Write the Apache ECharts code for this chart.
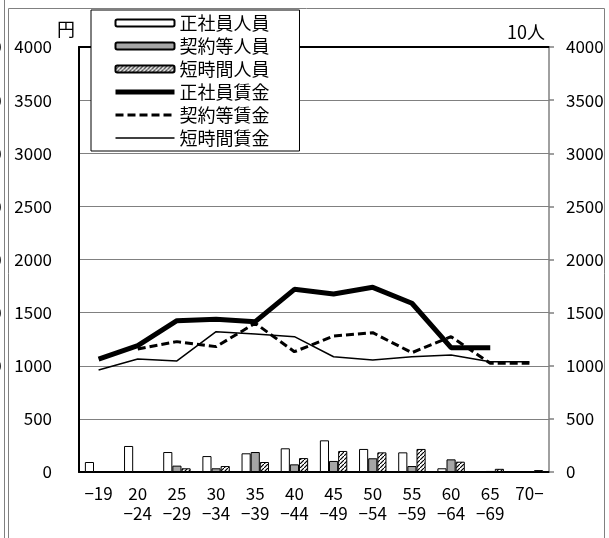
<!DOCTYPE html>
<html>
<head>
<meta charset="utf-8">
<script src="https://cdn.jsdelivr.net/npm/echarts@6/dist/echarts.min.js"></script>
<style>
  html, body { margin: 0; padding: 0; background: #fff; }
  #chart { width: 609px; height: 538px; }
</style>
</head>
<body>
<div id="chart"></div>
<script>
// age groups
const categories = ['−19', '20\n−24', '25\n−29', '30\n−34', '35\n−39', '40\n−44', '45\n−49', '50\n−54', '55\n−59', '60\n−64', '65\n−69', '70−'];

// head counts (10人)
const regularStaff = [94, 245, 188, 150, 176, 223, 298, 217, 185, 35, 4, 2];
const contractStaff = [3, 5, 60, 35, 188, 72, 104, 129, 56, 119, 10, 6];
const partTimeStaff = [4, 6, 35, 56, 94, 131, 198, 185, 217, 97, 30, 18];

// hourly wages (円)
const regularWage = [1063, 1189, 1424, 1437, 1415, 1719, 1675, 1738, 1588, 1170, 1170, null];
const contractWage = [null, 1158, 1227, 1180, 1400, 1132, 1280, 1311, 1123, 1274, 1023, 1023];
const partTimeWage = [960, 1063, 1045, 1321, 1299, 1274, 1085, 1054, 1085, 1101, 1038, 1038];

const axisTicks = [0, 500, 1000, 1500, 2000, 2500, 3000, 3500, 4000];

const FONT = '"Noto Sans CJK JP", "Liberation Sans", sans-serif';

// diagonal hatch for the part-time bars
function makeHatch() {
  const c = document.createElement('canvas');
  c.width = 4;
  c.height = 4;
  const ctx = c.getContext('2d');
  ctx.fillStyle = '#fff';
  ctx.fillRect(0, 0, 4, 4);
  ctx.strokeStyle = '#000';
  ctx.lineWidth = 1.2;
  ctx.beginPath();
  ctx.moveTo(-1, 5);
  ctx.lineTo(5, -1);
  ctx.stroke();
  return c;
}

const chartInstance = echarts.init(document.getElementById('chart'));

const barBase = {
  type: 'bar',
  yAxisIndex: 1,
  barGap: '0%',
  barCategoryGap: '30%',
};

const yMin = axisTicks[0];
const yMax = axisTicks[axisTicks.length - 1];
const yStep = axisTicks[1] - axisTicks[0];
const plain = (v) => String(v);

const option = {
  animation: false,
  textStyle: { fontFamily: FONT },
  graphic: [
    {
      type: 'rect',
      shape: { x: 8.5, y: 8.5, width: 596, height: 560 },
      style: { fill: null, stroke: '#808080', lineWidth: 1 },
      z: 0,
    },
    {
      type: 'line',
      shape: { x1: 4.5, y1: 0, x2: 4.5, y2: 538 },
      style: { stroke: '#808080', lineWidth: 1 },
    },
  ],
  legend: {
    orient: 'vertical',
    left: 91,
    top: 10,
    padding: [3, 30, 3, 22],
    backgroundColor: '#fff',
    borderColor: '#000',
    borderWidth: 1,
    itemWidth: 59,
    itemHeight: 7,
    itemGap: 3,
    textStyle: { fontFamily: FONT, fontSize: 18, color: '#000', lineHeight: 20 },
    data: [
      { name: '正社員人員' },
      { name: '契約等人員' },
      { name: '短時間人員' },
      { name: '正社員賃金', lineStyle: { width: 5 } },
      { name: '契約等賃金', lineStyle: { width: 3 } },
      { name: '短時間賃金', lineStyle: { width: 1.5 } },
    ],
    z: 10,
  },
  grid: {
    left: 79,
    right: 60,
    top: 47,
    bottom: 66,
    outerBoundsMode: 'none',
  },
  xAxis: [
    {
      type: 'category',
      data: categories,
      axisLine: { lineStyle: { color: '#000', width: 2 } },
      axisTick: { inside: true, length: 5, lineStyle: { color: '#808080', width: 1.5 } },
      axisLabel: { color: '#000', fontSize: 17, fontFamily: FONT, margin: 12, lineHeight: 20, interval: 0 },
    },
    {
      // black frame line along the top of the plot
      type: 'category',
      data: categories,
      position: 'top',
      axisLine: { onZero: false, lineStyle: { color: '#000', width: 2 } },
      axisTick: { show: false },
      axisLabel: { show: false },
    },
  ],
  yAxis: [
    {
      type: 'value',
      name: '円',
      nameLocation: 'end',
      nameGap: 6,
      nameTextStyle: { color: '#000', fontSize: 18, fontFamily: FONT, align: 'right', padding: [0, 4, 0, 0] },
      min: yMin,
      max: yMax,
      interval: yStep,
      axisLine: { show: true, lineStyle: { color: '#000', width: 2 } },
      axisTick: { show: false },
      axisLabel: { color: '#000', fontSize: 17, fontFamily: FONT, margin: 27, formatter: plain },
      splitLine: { lineStyle: { color: '#808080', width: 1 } },
    },
    {
      type: 'value',
      name: '10人',
      nameLocation: 'end',
      nameGap: 6,
      nameTextStyle: { color: '#000', fontSize: 18, fontFamily: FONT, align: 'right', padding: [0, 4, 0, 0] },
      position: 'right',
      min: yMin,
      max: yMax,
      interval: yStep,
      axisLine: { show: true, lineStyle: { color: '#808080', width: 1.5 } },
      axisTick: { show: true, length: 5, lineStyle: { color: '#808080', width: 1.5 } },
      axisLabel: { color: '#000', fontSize: 17, fontFamily: FONT, margin: 17, formatter: plain },
      splitLine: { show: false },
    },
    {
      // right-hand labels of the neighbouring chart, cut off at the left edge
      type: 'value',
      position: 'left',
      offset: 100,
      min: yMin,
      max: yMax,
      interval: yStep,
      axisLine: { show: false },
      axisTick: { show: false },
      axisLabel: { color: '#000', fontSize: 17, fontFamily: FONT, margin: 15, align: 'left', formatter: plain },
      splitLine: { show: false },
    },
  ],
  series: [
    {
      ...barBase,
      name: '正社員人員',
      data: regularStaff,
      itemStyle: { color: '#fff', borderColor: '#000', borderWidth: 1 },
    },
    {
      ...barBase,
      name: '契約等人員',
      data: contractStaff,
      itemStyle: { color: '#a6a6a6', borderColor: '#000', borderWidth: 1 },
    },
    {
      ...barBase,
      name: '短時間人員',
      data: partTimeStaff,
      itemStyle: { color: { image: makeHatch(), repeat: 'repeat' }, borderColor: '#000', borderWidth: 1 },
    },
    {
      name: '正社員賃金',
      type: 'line',
      yAxisIndex: 0,
      symbol: 'none',
      data: regularWage,
      itemStyle: { color: '#000', opacity: 0 },
      lineStyle: { color: '#000', width: 5 },
      z: 5,
    },
    {
      name: '契約等賃金',
      type: 'line',
      yAxisIndex: 0,
      symbol: 'none',
      data: contractWage,
      itemStyle: { color: '#000', opacity: 0 },
      lineStyle: { color: '#000', width: 3, type: [8, 4] },
      z: 4,
    },
    {
      name: '短時間賃金',
      type: 'line',
      yAxisIndex: 0,
      symbol: 'none',
      data: partTimeWage,
      itemStyle: { color: '#000', opacity: 0 },
      lineStyle: { color: '#000', width: 1.5 },
      z: 3,
    },
  ],
};

chartInstance.setOption(option);

window.addEventListener('resize', () => chartInstance.resize());
</script>
</body>
</html>
